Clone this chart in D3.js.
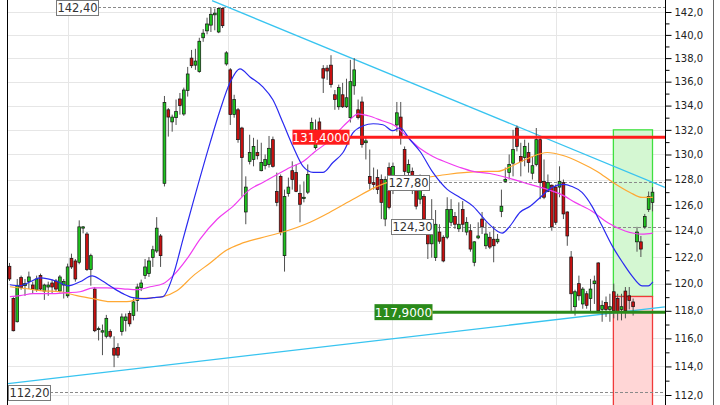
<!DOCTYPE html>
<html><head><meta charset="utf-8">
<script src="https://cdn.jsdelivr.net/npm/d3@7"></script>
<style>html,body{margin:0;padding:0;background:#fff;} svg{display:block;font-family:"DejaVu Sans",sans-serif;}</style>
</head><body><svg id="c" width="720" height="405"></svg>
<script>
// ---- data ----
const opens  = [121.3,118.9,117.2,120.45,119.85,120.15,119.9,119.55,120.6,119.45,119.75,120.05,120.2,119.45,119.9,119.1,121.9,121.7,121.6,124.2,123.75,121.05,119.6,116.65,116.45,116.15,116.5,115.3,115.35,116.5,117.3,117.8,117.65,118.75,119.7,120.6,120.75,121.95,122.45,123.6,127.7,133.65,132.65,133.0,134.55,133.3,135.25,138.0,137.4,136.85,139.75,140.35,140.85,141.75,140.25,142.3,137.5,137.0,133.25,133.65,132.15,125.45,129.45,129.6,130.15,128.7,129.1,129.2,131.2,127.05,128.25,122.1,126.9,128.7,128.55,126.9,126.5,127.0,131.9,130.55,132.65,137.1,137.15,137.4,134.9,133.9,134.9,133.9,133.0,135.65,133.65,134.3,130.95,128.25,127.75,128.15,128.0,124.9,128.95,127.2,132.4,133.05,130.4,128.55,128.65,127.2,126.45,126.65,123.9,123.0,121.95,123.9,123.5,123.5,124.65,125.1,124.15,125.65,123.9,124.0,121.6,123.45,124.9,122.85,123.5,123.35,123.15,125.5,127.85,128.55,129.3,132.15,129.85,129.75,130.15,128.5,129.2,131.2,127.85,127.05,127.55,127.4,127.4,127.75,125.45,122.0,118.3,120.0,118.5,119.25,118.9,120.0,121.55,118.1,118.6,118.1,119.4,118.9,118.1,119.45,119.1,118.65,123.15,123.15,124.3,125.65,126.2];
const highs  = [121.55,119.0,120.35,120.6,120.35,120.9,120.15,120.6,120.75,120.0,120.15,120.3,120.35,120.65,120.35,121.5,122.25,121.85,124.8,124.35,123.9,122.25,119.75,116.85,117.0,117.7,116.65,116.15,115.65,117.8,117.8,118.0,118.9,120.0,120.3,121.85,122.0,122.85,125.05,123.75,134.8,133.8,133.25,134.5,135.05,135.5,137.25,138.7,138.8,139.75,140.5,141.5,142.4,142.3,142.35,142.4,138.6,137.15,134.9,133.8,132.25,128.25,131.6,131.35,131.2,130.95,130.0,131.5,131.45,128.55,128.4,127.2,128.15,129.45,129.2,127.6,127.85,129.2,133.0,132.85,133.0,137.4,137.4,138.25,135.3,135.75,135.9,136.25,137.85,138.0,134.5,134.75,131.45,130.4,128.95,128.8,128.4,128.25,129.35,129.35,134.3,134.3,130.65,129.6,128.95,127.75,128.4,126.85,124.65,126.45,125.6,124.5,123.65,126.6,126.45,125.45,126.2,126.3,125.05,124.5,123.2,124.65,125.45,124.65,123.9,124.35,123.75,127.2,128.95,130.0,132.0,132.35,130.95,131.2,130.95,129.85,132.15,131.35,129.6,128.4,127.6,127.6,129.05,128.0,125.5,122.45,119.55,120.6,119.75,119.45,120.35,120.6,121.6,118.75,119.05,119.25,120.0,119.25,119.25,119.75,119.75,118.9,124.3,123.6,125.3,127.05,127.4];
const lows   = [120.2,116.5,117.15,119.55,119.1,119.6,119.25,119.4,119.45,118.8,119.1,119.25,119.45,119.35,118.9,118.95,121.1,120.15,121.45,123.8,120.95,119.85,116.45,115.85,114.8,116.0,116.0,113.95,114.6,116.2,116.5,116.85,117.3,117.95,119.45,120.35,120.5,121.25,122.3,121.25,127.45,131.45,131.85,132.4,133.25,133.15,134.75,137.15,137.0,136.75,139.4,140.05,140.25,140.4,140.15,140.6,137.35,132.4,133.0,130.95,126.65,124.5,129.2,129.05,129.6,128.65,128.8,128.95,128.95,125.9,123.65,120.9,126.65,127.2,127.0,124.65,126.2,126.85,131.75,130.4,131.3,135.05,136.15,135.5,133.65,133.65,133.8,133.8,132.6,134.9,132.85,130.55,129.6,127.2,127.2,126.85,124.9,124.35,125.65,126.85,131.85,130.8,127.45,128.15,126.85,125.65,126.05,124.5,121.85,121.95,121.7,123.0,121.6,123.35,124.35,124.15,123.9,123.9,123.65,122.4,121.3,123.35,123.75,122.6,122.6,121.6,123.0,125.05,127.75,128.0,128.25,130.25,128.25,129.05,128.55,128.0,129.05,126.45,126.45,127.0,124.0,124.45,126.6,124.9,122.85,117.95,117.65,118.75,118.15,118.15,117.95,118.5,117.95,117.2,117.55,117.2,117.45,117.3,117.3,117.45,118.1,117.65,122.4,122.0,124.15,125.45,125.5];
const closes = [120.35,116.55,119.85,119.7,120.0,120.5,119.6,120.35,119.6,119.9,119.9,119.75,119.6,120.5,120.15,121.25,121.25,120.35,124.3,124.3,121.05,122.1,116.55,116.7,116.55,117.45,116.15,114.8,114.8,117.55,117.55,117.05,118.65,119.75,120.05,121.25,121.7,122.55,124.2,122.1,134.25,133.05,133.05,133.5,134.0,135.3,136.65,137.35,137.75,139.45,140.15,140.95,141.8,141.9,142.3,140.8,138.45,133.25,134.5,131.2,129.75,127.4,130.15,130.65,129.9,129.35,129.6,130.5,129.05,126.2,123.9,126.65,127.4,128.0,127.05,126.05,126.6,128.4,132.6,132.0,131.5,136.3,136.9,135.75,134.5,135.5,133.9,134.65,136.0,137.0,133.0,130.8,131.1,127.7,127.6,127.2,126.2,128.0,125.8,129.05,133.4,131.45,128.65,129.2,127.2,125.9,128.0,124.9,123.0,124.65,124.5,123.2,121.7,125.65,125.65,124.5,124.5,124.5,124.65,122.6,123.15,123.6,124.3,123.75,122.75,122.85,123.35,125.9,128.0,129.2,130.4,130.65,129.45,130.65,129.35,129.1,131.2,127.75,126.6,127.75,124.3,124.65,127.85,125.3,123.6,119.25,119.4,119.1,119.6,118.4,119.6,120.2,118.0,118.4,118.1,118.3,118.0,117.95,118.3,118.0,118.75,118.3,123.9,122.6,125.1,126.65,127.0];

// moving averages: [candle index, price]
const blueMA = [[0.1,119.92],[2.7,119.84],[5.3,120.14],[7.9,120.43],[9.9,120.36],[12.5,120.14],[15.1,119.84],[18.2,120.14],[21.3,120.58],[23.9,120.21],[26.7,119.69],[29.3,119.26],[31.9,118.96],[34.5,118.89],[37.1,118.96],[39.6,119.04],[42.2,120.58],[44.8,123.36],[47.4,126.2],[51.8,130.96],[54.4,133.65],[56.9,135.9],[59.5,137.08],[62.1,136.4],[65.4,135.56],[68.0,134.48],[70.6,132.58],[73.2,130.64],[75.8,129.04],[78.4,128.56],[80.9,128.56],[83.5,129.36],[86.1,130.16],[88.7,131.77],[91.3,132.33],[93.9,132.5],[96.4,132.42],[99.0,131.93],[100.8,132.17],[103.4,131.2],[106.0,130.24],[109.3,128.56],[113.0,127.22],[116.3,126.59],[119.7,125.89],[123.3,124.66],[125.9,123.98],[127.2,123.82],[129.2,124.36],[131.8,125.43],[134.4,125.89],[136.5,126.44],[140.1,127.38],[143.0,127.61],[145.2,127.45],[147.8,126.98],[150.4,125.89],[153.0,124.36],[155.6,122.84],[158.2,121.62],[160.7,120.58],[163.3,119.84],[164.9,119.84],[166.1,120.14]];
const magentaMA = [[0.1,119.04],[2.7,119.11],[6.1,119.26],[10.5,119.26],[14.8,119.33],[18.2,119.4],[21.6,119.69],[25.2,119.69],[29.3,119.62],[32.9,119.55],[36.3,119.77],[39.6,119.99],[42.2,120.58],[45.8,121.85],[49.2,123.36],[53.6,124.89],[57.7,125.89],[62.1,127.22],[65.4,127.77],[69.1,128.4],[72.4,128.96],[75.8,129.44],[78.9,130.24],[82.0,130.96],[85.3,132.01],[87.9,132.83],[90.0,133.32],[92.6,133.16],[96.2,132.75],[99.5,132.34],[102.6,131.44],[106.0,130.48],[109.3,129.84],[112.9,129.36],[116.3,128.96],[119.7,128.64],[124.0,128.48],[130.0,128.01],[134.4,127.61],[138.8,127.22],[142.9,126.75],[146.0,126.2],[150.4,125.51],[154.6,124.59],[158.9,123.98],[163.3,123.74],[166.1,123.82]];
const orangeMA = [[0.1,119.77],[4.5,119.62],[8.6,119.47],[13.0,119.4],[17.4,119.11],[21.6,118.89],[25.9,118.67],[30.3,118.67],[33.7,118.89],[37.1,118.96],[39.6,119.04],[43.2,119.47],[47.4,120.58],[51.8,121.55],[56.1,122.53],[59.5,122.98],[64.7,123.44],[70.6,123.9],[77.6,124.66],[82.7,125.43],[88.7,126.44],[94.4,127.38],[99.5,127.93],[103.4,128.01],[107.8,128.17],[112.9,128.4],[118.1,128.56],[123.3,128.64],[125.9,128.64],[130.0,129.12],[134.4,129.76],[138.8,130.16],[142.9,129.92],[147.3,129.36],[151.7,128.64],[155.8,127.77],[160.2,126.98],[163.3,126.59],[166.1,126.59]];

// drawing objects
const trendUpper = [[52.3,143.0],[169.2,127.38]];
const trendLower = [[-0.4,112.79],[169.2,118.28]];
const priceLevels = [142.4, 127.8, 124.3, 112.2];
const priceLevelLabels = ["142,40", "127,80", "124,30", "112,20"];
const resistanceLevel = 131.4, resistanceLabel = "131,4000";
const supportLevel = 117.9, supportLabel = "117,9000";
const zoneTarget = 132.0, zoneEntry = 119.05, zoneStop = 108.0;
const zoneIdx = [155.9, 166.0];
const gridIdx = [15.1, 56.4, 98.8, 141.1];
const yTickValues = d3.range(112, 143, 2);
const yMinorValues = d3.range(113, 142, 2);

// ---- layout ----
const W = 720, H = 405, plotL = 7.5, axisX = 665;
const levelLabelX = [56, 387, 391, 8];
const resLabelX = 292.5, supLabelX = 374.5;

const N = closes.length;
const x = d3.scaleLinear().domain([0, N - 1]).range([9.5, 652.5]);
const y = d3.scaleLog().domain([112, 142]).range([395, 12]);

const svg = d3.select('#c');
svg.append('rect').attr('width', W).attr('height', H).attr('fill', '#fff');
svg.append('clipPath').attr('id', 'clip').append('rect')
  .attr('x', plotL).attr('y', 0).attr('width', axisX - plotL).attr('height', H);
const g = svg.append('g').attr('clip-path', 'url(#clip)');

// grid
g.selectAll('line.hg').data(yTickValues).join('line')
  .attr('x1', plotL).attr('x2', axisX).attr('y1', d => Math.round(y(d)) + 0.5).attr('y2', d => Math.round(y(d)) + 0.5)
  .attr('stroke', '#e6e6e6').attr('stroke-width', 1);
g.selectAll('line.vg').data(gridIdx).join('line')
  .attr('x1', d => Math.round(x(d)) + 0.5).attr('x2', d => Math.round(x(d)) + 0.5).attr('y1', 0).attr('y2', H)
  .attr('stroke', '#e6e6e6').attr('stroke-width', 1);

// zones
const zx0 = x(zoneIdx[0]), zx1 = x(zoneIdx[1]);
g.append('rect').attr('x', zx0).attr('y', y(zoneTarget)).attr('width', zx1 - zx0)
  .attr('height', y(zoneEntry) - y(zoneTarget)).attr('fill', '#d4f7d2').attr('stroke', '#3fe03f').attr('stroke-width', 1.3);
g.append('rect').attr('x', zx0).attr('y', y(zoneEntry)).attr('width', zx1 - zx0)
  .attr('height', y(zoneStop) - y(zoneEntry)).attr('fill', '#ffd6d6').attr('stroke', '#f03a3a').attr('stroke-width', 1.3);

// dashed price levels
const boxW = 42, boxH = 15;
priceLevels.forEach((v, i) => {
  const yy = Math.round(y(v)) + 0.5;
  g.append('line').attr('x1', levelLabelX[i] + boxW).attr('x2', axisX).attr('y1', yy).attr('y2', yy)
    .attr('stroke', '#8a8a8a').attr('stroke-width', 1).attr('stroke-dasharray', '3,2');
});

// trend lines
const lineXY = d3.line().x(d => x(d[0])).y(d => y(d[1]));
[trendUpper, trendLower].forEach(t => {
  g.append('path').attr('d', lineXY(t)).attr('fill', 'none').attr('stroke', '#38c4f0').attr('stroke-width', 1.3);
});

// candles
const idx = d3.range(N);
g.selectAll('line.wick').data(idx).join('line')
  .attr('x1', i => x(i)).attr('x2', i => x(i))
  .attr('y1', i => y(highs[i])).attr('y2', i => y(lows[i]))
  .attr('stroke', '#505050').attr('stroke-width', 1);
g.selectAll('rect.body').data(idx).join('rect')
  .attr('x', i => x(i) - 1.4).attr('width', 2.8)
  .attr('y', i => y(Math.max(opens[i], closes[i])))
  .attr('height', i => Math.max(1, Math.abs(y(opens[i]) - y(closes[i]))))
  .attr('fill', i => closes[i] >= opens[i] ? '#1fc41f' : '#c81010')
  .attr('stroke', '#111').attr('stroke-width', 0.7);

// moving averages
const maLine = d3.line().x(d => x(d[0])).y(d => y(d[1])).curve(d3.curveMonotoneX);
[[orangeMA, '#ffa833'], [magentaMA, '#f03cf0'], [blueMA, '#2a2af0']].forEach(([s, c]) => {
  g.append('path').attr('d', maLine(s)).attr('fill', 'none').attr('stroke', c).attr('stroke-width', 1.2);
});

// thick support / resistance lines
const resY = y(resistanceLevel), supY = y(supportLevel);
g.append('line').attr('x1', resLabelX + 57).attr('x2', axisX).attr('y1', resY).attr('y2', resY)
  .attr('stroke', '#ff1c1c').attr('stroke-width', 3);
g.append('line').attr('x1', supLabelX + 58).attr('x2', axisX).attr('y1', supY).attr('y2', supY)
  .attr('stroke', '#2a8a1a').attr('stroke-width', 3);

// labels
priceLevels.forEach((v, i) => {
  const yy = y(v);
  svg.append('rect').attr('x', levelLabelX[i] + 0.5).attr('y', Math.round(yy - boxH / 2) + 0.5)
    .attr('width', boxW).attr('height', boxH).attr('fill', '#fff').attr('stroke', '#7a7a7a');
  svg.append('text').attr('x', levelLabelX[i] + boxW / 2 + 0.5).attr('y', yy + 4.5)
    .attr('text-anchor', 'middle').attr('font-size', 11.5).attr('fill', '#333').text(priceLevelLabels[i]);
});
svg.append('rect').attr('x', resLabelX).attr('y', resY - 7.5).attr('width', 57).attr('height', 15).attr('fill', '#ff1c1c');
svg.append('text').attr('x', resLabelX + 28.5).attr('y', resY + 4.5).attr('text-anchor', 'middle')
  .attr('font-size', 12).attr('fill', '#fff').text(resistanceLabel);
svg.append('rect').attr('x', supLabelX).attr('y', supY - 8).attr('width', 58).attr('height', 16).attr('fill', '#2a8a1a');
svg.append('text').attr('x', supLabelX + 29).attr('y', supY + 4.5).attr('text-anchor', 'middle')
  .attr('font-size', 12).attr('fill', '#fff').text(supportLabel);

// borders
svg.append('line').attr('x1', plotL).attr('x2', plotL).attr('y1', 0).attr('y2', H).attr('stroke', '#000');
svg.append('line').attr('x1', axisX + 0.5).attr('x2', axisX + 0.5).attr('y1', 0).attr('y2', H).attr('stroke', '#000');
svg.append('line').attr('x1', 713.5).attr('x2', 713.5).attr('y1', 0).attr('y2', H).attr('stroke', '#666');

// axis
const ax = svg.append('g').attr('transform', `translate(${axisX + 0.5},0)`)
  .call(d3.axisRight(y).tickValues(yTickValues).tickSize(6).tickPadding(3)
    .tickFormat(d => d.toFixed(1).replace('.', ',')));
ax.select('.domain').remove();
ax.selectAll('text').attr('font-size', 10).attr('fill', '#222').attr('font-family', 'DejaVu Sans');
const axm = svg.append('g').attr('transform', `translate(${axisX + 0.5},0)`)
  .call(d3.axisRight(y).tickValues(yMinorValues).tickSize(4).tickFormat(''));
axm.select('.domain').remove();
</script></body></html>
